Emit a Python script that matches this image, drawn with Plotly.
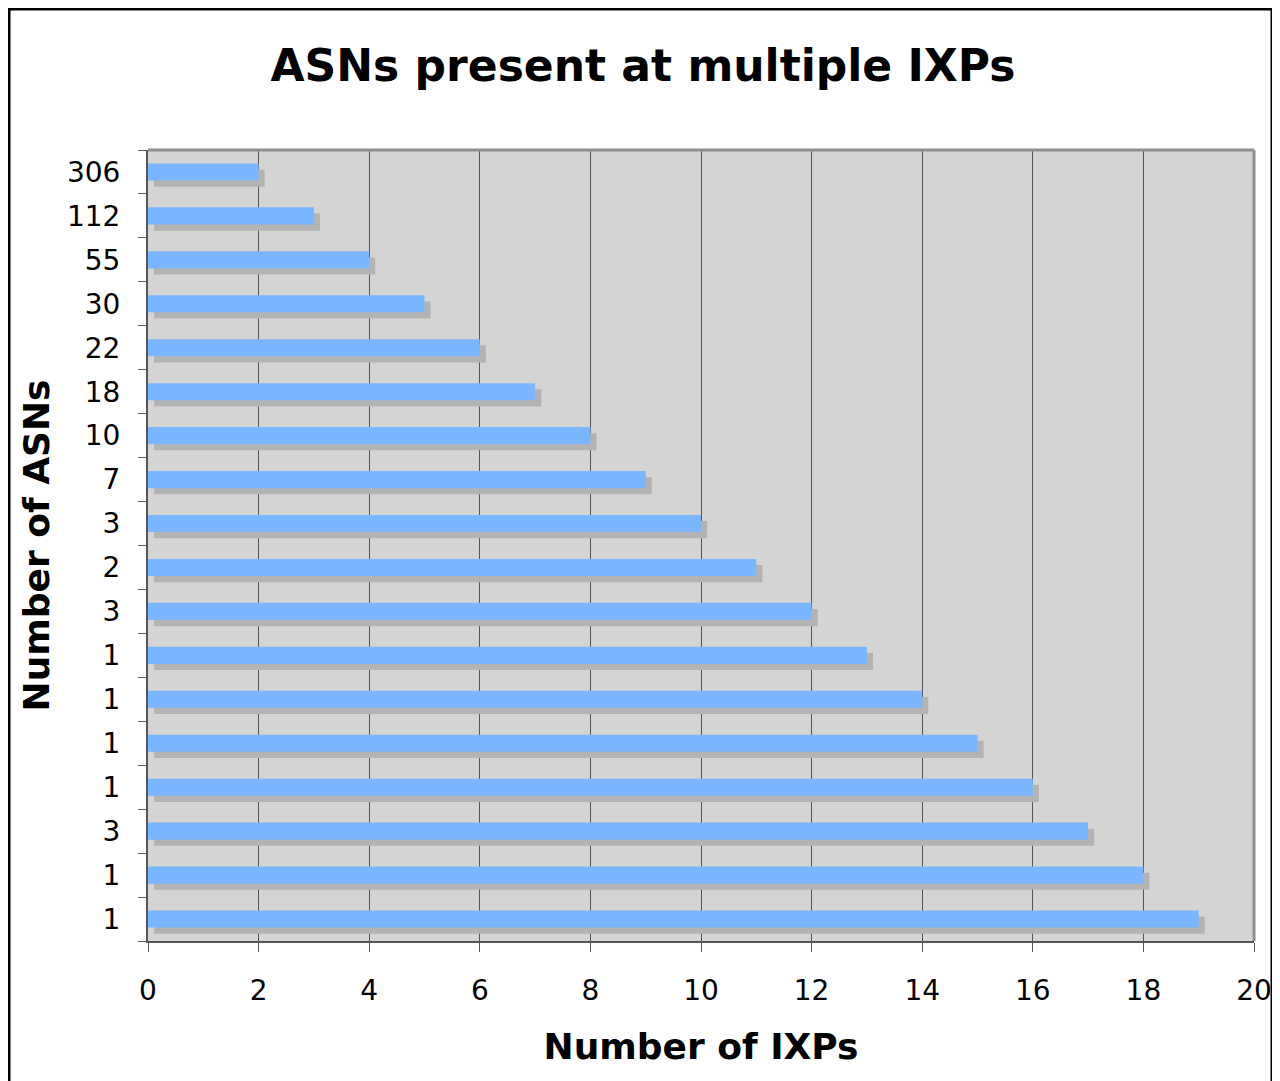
import plotly.graph_objects as go

# Number of ASNs (tick labels), top to bottom
asn_counts = ['306', '112', '55', '30', '22', '18', '10', '7', '3', '2',
              '3', '1', '1', '1', '1', '3', '1', '1']
# Number of IXPs each group of ASNs is present at
ixp_counts = [2, 3, 4, 5, 6, 7, 8, 9, 10, 11, 12, 13, 14, 15, 16, 17, 18, 19]

pos = list(range(len(asn_counts)))
shadow_dx = 0.11
shadow_dy = 0.14
bar_w = 0.39

W, H = 1280, 1081
L, R, T, B = 140, 34, 142, 148
pw, ph = W - L - R, H - T - B

fig = go.Figure()

# drop shadow behind the bars
fig.add_trace(go.Bar(
    y=[p + shadow_dy for p in pos],
    x=ixp_counts,
    base=shadow_dx,
    orientation='h',
    width=bar_w,
    marker=dict(color='#b3b3b3', line=dict(width=0)),
    hoverinfo='skip',
    showlegend=False,
))

fig.add_trace(go.Bar(
    y=pos,
    x=ixp_counts,
    orientation='h',
    width=bar_w,
    marker=dict(color='#7ab6ff', line=dict(width=0)),
    customdata=asn_counts,
    hovertemplate='%{customdata} ASNs: %{x} IXPs<extra></extra>',
    showlegend=False,
))

fig.update_layout(
    width=W,
    height=H,
    barmode='overlay',
    paper_bgcolor='white',
    plot_bgcolor='#d4d4d4',
    font=dict(family='DejaVu Sans', size=28, color='black'),
    margin=dict(l=L, r=R, t=T, b=B),
    title=dict(
        text='<b>ASNs present at multiple IXPs</b>',
        x=635 / W, xref='container', xanchor='center',
        y=1 - 58 / H, yref='container', yanchor='middle',
        font=dict(size=44, family='DejaVu Sans'),
    ),
    xaxis=dict(
        range=[0, 20],
        tickmode='linear', tick0=0, dtick=2,
        ticks='outside', ticklen=9, tickcolor='#555', tickwidth=1,
        showgrid=True, gridcolor='#555', gridwidth=1,
        showline=True, linecolor='#555', linewidth=2,
        zeroline=False,
        ticklabelstandoff=14,
        tickfont=dict(size=28),
        title=dict(text='<b>Number of IXPs</b>', font=dict(size=36), standoff=28),
    ),
    yaxis=dict(
        range=[len(pos) - 0.5, -0.5],
        tickmode='array', tickvals=pos, ticktext=asn_counts,
        ticks='',
        minor=dict(tickmode='array',
                   tickvals=[p - 0.5 for p in pos] + [len(pos) - 0.5],
                   ticks='outside', ticklen=8, tickcolor='#555', tickwidth=1,
                   showgrid=False),
        showgrid=False,
        showline=True, linecolor='#555', linewidth=2,
        zeroline=False,
        ticklabelstandoff=20,
        tickfont=dict(size=28),
        title=dict(text='<b>Number of ASNs</b>', font=dict(size=36), standoff=6),
    ),
    shapes=[
        # lighter top and right edges of the plot frame
        dict(type='line', xref='paper', yref='paper', x0=0, x1=1, y0=1, y1=1,
             line=dict(color='#8f8f8f', width=3)),
        dict(type='line', xref='paper', yref='paper', x0=1, x1=1, y0=0, y1=1,
             line=dict(color='#8f8f8f', width=3)),
        # outer chart border
        dict(type='rect', xref='paper', yref='paper',
             x0=(1 - L) / pw, x1=(1264 - L) / pw,
             y0=(ph + T - H - 20) / ph, y1=(ph + T - 1) / ph,
             line=dict(color='black', width=3), layer='above'),
    ],
)

fig.write_html('out.html')
